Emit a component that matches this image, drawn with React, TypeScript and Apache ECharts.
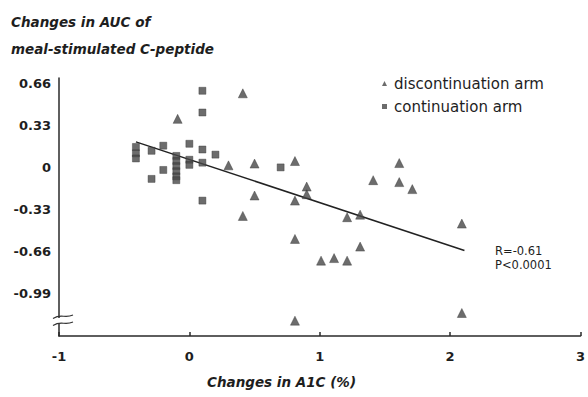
import React, { useEffect, useRef } from "react";
import * as echarts from "echarts";

// x: change in A1C (%), y: change in AUC of meal-stimulated C-peptide
const continuationArm: [number, number][] = [
  [-0.41, 0.16], [-0.41, 0.11], [-0.41, 0.07],
  [-0.29, 0.13], [-0.29, -0.09],
  [-0.2, 0.17], [-0.2, -0.02],
  [-0.1, 0.09], [-0.1, 0.05], [-0.1, 0.01], [-0.1, -0.03], [-0.1, -0.07], [-0.1, -0.1],
  [0.0, 0.185], [0.0, 0.06], [0.0, 0.02],
  [0.1, 0.6], [0.1, 0.43], [0.1, 0.14], [0.1, 0.037], [0.1, -0.26],
  [0.2, 0.1],
  [0.7, 0.0],
];

const discontinuationArm: [number, number][] = [
  [-0.09, 0.38], [0.41, 0.58], [0.3, 0.016], [0.5, 0.03], [0.5, -0.22], [0.41, -0.38],
  [0.81, 0.05], [0.81, -0.26], [0.81, -0.56], [0.81, -1.2],
  [0.9, -0.15], [0.9, -0.21],
  [1.41, -0.1], [1.61, 0.034], [1.61, -0.115], [1.71, -0.17],
  [1.21, -0.39], [1.31, -0.37], [1.31, -0.62],
  [1.01, -0.73], [1.11, -0.71], [1.21, -0.73],
  [2.09, -0.44], [2.09, -1.14],
];

const regressionLine: [number, number][] = [[-0.41, 0.2], [2.11, -0.65]];

const yTickLabels = [0.66, 0.33, 0, -0.33, -0.66, -0.99];
const xTickLabels = [-1, 0, 1, 2, 3];

const titleLines = ["Changes in AUC of", "meal-stimulated C-peptide"];
const xAxisTitle = "Changes in A1C (%)";
const statLines = ["R=-0.61", "P<0.0001"];

const FONT = "DejaVu Sans";
const INK = "#1e1e1e";
const MARK = "#474747";

export default function App() {
  const ref = useRef<HTMLDivElement>(null);
  useEffect(() => {
    if (!ref.current) return;
    const chart = echarts.init(ref.current, undefined, { renderer: "svg" });
    chart.setOption({
      animation: false,
      backgroundColor: "#ffffff",
      grid: { left: 59, right: 4, top: 78, bottom: 61 },
      xAxis: {
        type: "value",
        min: xTickLabels[0],
        max: xTickLabels[xTickLabels.length - 1],
        interval: 1,
        splitLine: { show: false },
        axisLine: { onZero: false, lineStyle: { color: "#2a2a2a", width: 1.5 } },
        axisTick: { show: true, inside: true, length: 4, lineStyle: { color: "#2a2a2a", width: 1.5 } },
        axisLabel: {
          margin: 14,
          fontFamily: FONT,
          fontWeight: "bold",
          fontSize: 13,
          color: INK,
          formatter: (v: number) => String(v),
        },
      },
      yAxis: {
        type: "value",
        min: -1.32,
        max: 0.7,
        interval: 0.33,
        splitLine: { show: false },
        axisLine: { show: true, onZero: false, lineStyle: { color: "#2a2a2a", width: 1.5 } },
        axisTick: { show: false },
        axisLabel: {
          margin: 8,
          fontFamily: FONT,
          fontWeight: "bold",
          fontSize: 13,
          color: INK,
          formatter: (v: number) => {
            const hit = yTickLabels.find((t) => Math.abs(t - v) < 1e-6);
            if (hit === undefined) return "";
            return hit === 0 ? "0" : hit.toFixed(2);
          },
        },
      },
      legend: {
        data: [
          { name: "discontinuation arm", icon: "triangle", itemStyle: { borderWidth: 0 } },
          { name: "continuation arm", icon: "rect", itemStyle: { borderWidth: 0 } },
        ],
        orient: "vertical",
        left: 377,
        top: 71,
        itemWidth: 5,
        itemHeight: 5,
        itemGap: 8,
        textStyle: { fontFamily: FONT, fontSize: 15, color: INK, padding: [0, 0, 0, 2] },
      },
      series: [
        {
          name: "discontinuation arm",
          type: "scatter",
          symbol: "triangle",
          symbolSize: 9,
          itemStyle: { color: MARK, borderColor: "#333", borderWidth: 0.5 },
          data: discontinuationArm,
          z: 3,
        },
        {
          name: "continuation arm",
          type: "scatter",
          symbol: "rect",
          symbolSize: 7,
          itemStyle: { color: MARK, borderColor: "#333", borderWidth: 0.5 },
          data: continuationArm,
          z: 3,
        },
        {
          name: "regression",
          type: "line",
          data: regressionLine,
          showSymbol: false,
          symbol: "none",
          lineStyle: { color: "#222", width: 1.5 },
          z: 2,
        },
      ],
      graphic: [
        {
          type: "text",
          left: 11,
          top: 15,
          z: 100,
          style: { text: titleLines[0], fontFamily: FONT, fontWeight: "bold", fontStyle: "italic", fontSize: 13.5, fill: INK },
        },
        {
          type: "text",
          left: 11,
          top: 42,
          z: 100,
          style: { text: titleLines[1], fontFamily: FONT, fontWeight: "bold", fontStyle: "italic", fontSize: 13.5, fill: INK },
        },
        {
          type: "text",
          left: 207,
          top: 375,
          z: 100,
          style: { text: xAxisTitle, fontFamily: FONT, fontWeight: "bold", fontStyle: "italic", fontSize: 13.5, fill: INK },
        },
        {
          type: "text",
          left: 495,
          top: 245,
          z: 100,
          style: { text: statLines[0], fontFamily: FONT, fontSize: 11.5, fill: INK },
        },
        {
          type: "text",
          left: 495,
          top: 259,
          z: 100,
          style: { text: statLines[1], fontFamily: FONT, fontSize: 11.5, fill: INK },
        },
        {
          type: "rect",
          z: 100,
          shape: { x: 55, y: 318, width: 8, height: 6 },
          style: { fill: "#ffffff" },
        },
        {
          type: "bezierCurve",
          z: 101,
          shape: { x1: 53, y1: 318.5, cpx1: 62, cpy1: 313, cpx2: 64, cpy2: 319, x2: 73, y2: 315 },
          style: { stroke: "#333", lineWidth: 1.2, fill: null },
        },
        {
          type: "bezierCurve",
          z: 101,
          shape: { x1: 53, y1: 325.5, cpx1: 62, cpy1: 320, cpx2: 64, cpy2: 326, x2: 73, y2: 322 },
          style: { stroke: "#333", lineWidth: 1.2, fill: null },
        },
      ],
    });
    return () => chart.dispose();
  }, []);
  return (
    <div
      ref={ref}
      style={{ position: "fixed", left: 0, top: 0, width: 588, height: 397, background: "#fff" }}
    />
  );
}
